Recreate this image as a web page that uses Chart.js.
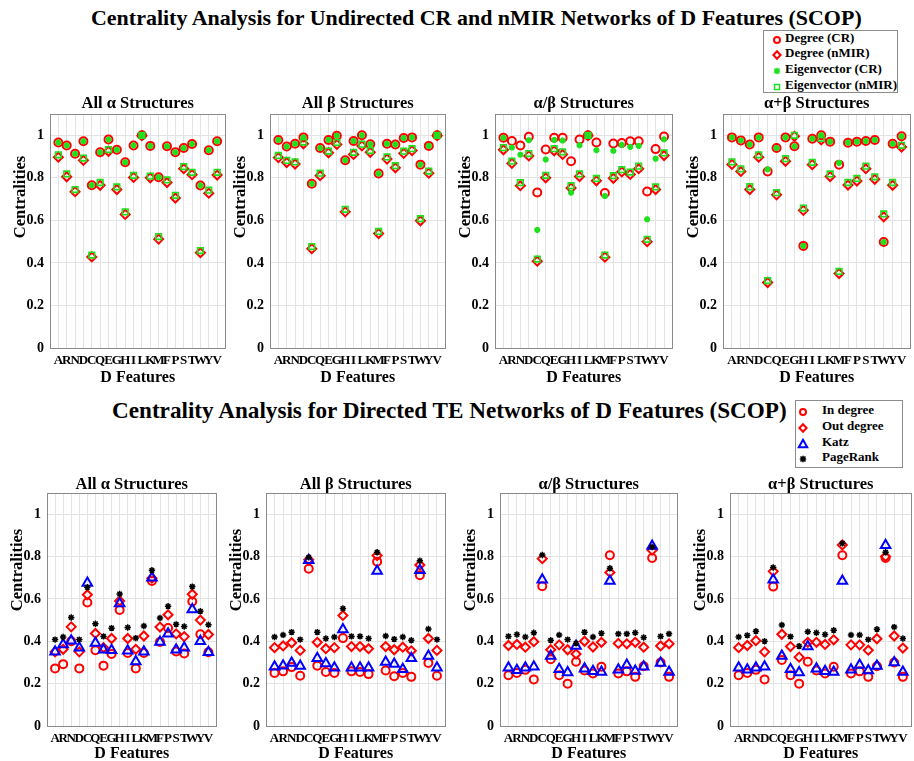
<!DOCTYPE html>
<html><head><meta charset="utf-8">
<script src="https://cdn.jsdelivr.net/npm/chart.js@4.4.1/dist/chart.umd.min.js"></script>
<style>
html,body{margin:0;padding:0;background:#fff;width:914px;height:761px;overflow:hidden;}
body{position:relative;font-family:'Liberation Serif','Times New Roman',serif;}
canvas{position:absolute;}
.ttl{position:absolute;white-space:nowrap;font-weight:bold;color:#000;line-height:1;}
.legend{position:absolute;background:#fff;border:1px solid #8c8c8c;box-sizing:border-box;}
.lrow{position:absolute;white-space:nowrap;font-weight:bold;font-size:13px;color:#000;line-height:1;}
.lmark{position:absolute;}
</style></head>
<body>
<div class="ttl" id="title1">Centrality Analysis for Undirected CR and nMIR Networks of D Features (SCOP)</div>
<div class="ttl" id="title2">Centrality Analysis for Directed TE Networks of D Features (SCOP)</div>
<script>
// ---------- categories & ticks ----------
const features = ['A','R','N','D','C','Q','E','G','H','I','L','K','M','F','P','S','T','W','Y','V'];
const yTickValues = [0, 0.2, 0.4, 0.6, 0.8, 1];
const yTickLabels = ['0', '0.2', '0.4', '0.6', '0.8', '1'];

// ---------- undirected (top row) ----------
const alphaDegreeCR    = [0.966,0.952,0.913,0.972,0.765,0.920,0.980,0.932,0.873,0.952,1.000,0.950,0.803,0.948,0.920,0.940,0.959,0.764,0.930,0.972];
const alphaDegreeNMIR  = [0.897,0.805,0.735,0.882,0.428,0.765,0.925,0.745,0.628,0.802,0.998,0.800,0.512,0.778,0.705,0.843,0.815,0.448,0.728,0.813];
const alphaEigenCR     = [0.966,0.952,0.913,0.972,0.765,0.920,0.980,0.932,0.873,0.952,1.000,0.950,0.803,0.948,0.920,0.940,0.959,0.764,0.930,0.972];
const alphaEigenNMIR   = [0.908,0.818,0.745,0.893,0.437,0.778,0.933,0.757,0.640,0.812,1.000,0.808,0.524,0.790,0.718,0.853,0.826,0.458,0.742,0.826];

const betaDegreeCR     = [0.978,0.947,0.960,0.990,0.772,0.940,0.978,0.998,0.883,0.973,1.000,0.958,0.820,0.960,0.957,0.987,0.990,0.862,0.950,1.000];
const betaDegreeNMIR   = [0.895,0.872,0.865,0.960,0.467,0.810,0.918,0.957,0.640,0.910,0.950,0.920,0.538,0.888,0.847,0.915,0.928,0.598,0.822,0.998];
const betaEigenCR      = [0.978,0.947,0.960,0.990,0.772,0.940,0.978,0.998,0.883,0.973,1.000,0.958,0.820,0.960,0.957,0.987,0.990,0.862,0.950,1.000];
const betaEigenNMIR    = [0.905,0.882,0.875,0.968,0.477,0.822,0.926,0.966,0.652,0.920,0.958,0.928,0.548,0.898,0.857,0.925,0.937,0.608,0.832,1.000];

const aOverBDegreeCR   = [0.988,0.973,0.952,0.993,0.731,0.933,0.988,0.988,0.878,0.980,1.000,0.966,0.729,0.961,0.964,0.972,0.972,0.736,0.935,0.994];
const aOverBDegreeNMIR = [0.932,0.868,0.763,0.903,0.408,0.800,0.927,0.910,0.752,0.806,0.998,0.786,0.427,0.798,0.828,0.816,0.843,0.500,0.745,0.905];
const aOverBEigenCR    = [0.988,0.942,0.909,0.977,0.555,0.886,0.978,0.975,0.730,0.953,1.000,0.930,0.714,0.927,0.955,0.945,0.950,0.605,0.890,0.981];
const aOverBEigenNMIR  = [0.942,0.878,0.777,0.914,0.418,0.812,0.937,0.922,0.763,0.818,1.000,0.797,0.437,0.810,0.838,0.827,0.855,0.511,0.757,0.917];

const aPlusBDegreeCR   = [0.990,0.976,0.957,0.990,0.830,0.940,0.990,0.948,0.480,0.984,1.000,0.970,0.862,0.965,0.970,0.973,0.978,0.498,0.960,0.995];
const aPlusBDegreeNMIR = [0.863,0.830,0.745,0.897,0.308,0.720,0.878,0.995,0.647,0.862,0.978,0.806,0.350,0.766,0.785,0.843,0.793,0.617,0.765,0.945];
const aPlusBEigenCR    = [0.990,0.976,0.957,0.990,0.840,0.940,0.990,0.948,0.480,0.984,1.000,0.970,0.870,0.965,0.970,0.973,0.978,0.498,0.960,0.995];
const aPlusBEigenNMIR  = [0.875,0.842,0.758,0.908,0.317,0.730,0.890,1.000,0.658,0.873,0.985,0.818,0.360,0.778,0.797,0.855,0.805,0.630,0.778,0.953];

// ---------- directed TE (bottom row) ----------
const alphaInDegree    = [0.272,0.292,0.400,0.272,0.583,0.358,0.285,0.340,0.548,0.345,0.272,0.345,0.685,0.397,0.463,0.352,0.342,0.588,0.433,0.348];
const alphaOutDegree   = [0.350,0.362,0.468,0.350,0.620,0.437,0.370,0.413,0.590,0.413,0.362,0.425,0.698,0.467,0.525,0.435,0.422,0.622,0.500,0.432];
const alphaKatz        = [0.350,0.385,0.403,0.370,0.675,0.392,0.360,0.358,0.578,0.355,0.305,0.350,0.700,0.397,0.435,0.360,0.370,0.550,0.400,0.348];
const alphaPageRank    = [0.408,0.420,0.512,0.408,0.655,0.483,0.423,0.462,0.623,0.465,0.415,0.472,0.735,0.510,0.565,0.480,0.470,0.658,0.542,0.478];

const betaInDegree     = [0.250,0.258,0.278,0.237,0.742,0.285,0.255,0.250,0.415,0.258,0.255,0.245,0.776,0.262,0.235,0.250,0.232,0.712,0.298,0.237];
const betaOutDegree    = [0.370,0.378,0.393,0.357,0.785,0.395,0.365,0.370,0.522,0.375,0.375,0.365,0.805,0.375,0.360,0.372,0.355,0.760,0.413,0.357];
const betaKatz         = [0.280,0.285,0.298,0.283,0.782,0.320,0.295,0.275,0.455,0.275,0.275,0.275,0.732,0.302,0.293,0.268,0.320,0.735,0.330,0.275];
const betaPageRank     = [0.420,0.430,0.443,0.408,0.796,0.443,0.413,0.420,0.555,0.423,0.423,0.413,0.820,0.425,0.410,0.420,0.405,0.780,0.458,0.408];

const aOverBInDegree   = [0.240,0.250,0.265,0.220,0.660,0.315,0.240,0.200,0.303,0.262,0.248,0.280,0.806,0.248,0.258,0.232,0.282,0.793,0.300,0.232];
const aOverBOutDegree  = [0.380,0.385,0.372,0.398,0.790,0.360,0.383,0.360,0.340,0.400,0.373,0.395,0.725,0.390,0.388,0.395,0.372,0.830,0.378,0.388];
const aOverBKatz       = [0.275,0.263,0.275,0.280,0.690,0.330,0.268,0.253,0.378,0.270,0.258,0.255,0.685,0.265,0.288,0.260,0.280,0.850,0.298,0.255];
const aOverBPageRank   = [0.423,0.432,0.420,0.440,0.807,0.405,0.430,0.408,0.390,0.443,0.420,0.438,0.745,0.435,0.435,0.440,0.418,0.845,0.423,0.435];

const aPlusBInDegree   = [0.240,0.250,0.265,0.220,0.658,0.312,0.240,0.200,0.303,0.262,0.248,0.280,0.806,0.248,0.258,0.232,0.282,0.793,0.300,0.232];
const aPlusBOutDegree  = [0.370,0.380,0.403,0.350,0.730,0.433,0.375,0.325,0.395,0.395,0.385,0.407,0.855,0.383,0.383,0.358,0.412,0.800,0.425,0.368];
const aPlusBKatz       = [0.275,0.265,0.275,0.280,0.690,0.330,0.268,0.253,0.375,0.270,0.258,0.255,0.685,0.265,0.288,0.262,0.283,0.853,0.300,0.255];
const aPlusBPageRank   = [0.420,0.428,0.447,0.400,0.748,0.477,0.422,0.377,0.445,0.440,0.432,0.452,0.862,0.430,0.430,0.408,0.457,0.820,0.467,0.413];

const topLegendLabels = ['Degree (CR)', 'Degree (nMIR)', 'Eigenvector (CR)', 'Eigenvector (nMIR)'];
const bottomLegendLabels = ['In degree', 'Out degree', 'Katz', 'PageRank'];
const panelTitles = ['All \u03b1 Structures', 'All \u03b2 Structures', '\u03b1/\u03b2 Structures', '\u03b1+\u03b2 Structures'];

// ---------- styling ----------
const FONT = "'Liberation Serif','Times New Roman',serif";
const RED = '#ff0000', GREEN = '#1fe01f', BLUE = '#0000ff', BLACK = '#000000';
const TRANSP = 'rgba(0,0,0,0)';

const topStyles = [
  {pointStyle:'circle',  pointRadius:4,   pointBorderWidth:2,   pointBorderColor:RED,   pointBackgroundColor:TRANSP, order:4},
  {pointStyle:'rectRot', pointRadius:4.5, pointBorderWidth:2,   pointBorderColor:RED,   pointBackgroundColor:TRANSP, order:3},
  {pointStyle:'star',    pointRadius:3,   pointBorderWidth:2.2, pointBorderColor:GREEN, pointBackgroundColor:GREEN,  order:2},
  {pointStyle:'rect',    pointRadius:4,   pointBorderWidth:1.6, pointBorderColor:GREEN, pointBackgroundColor:TRANSP, order:1}
];
const bottomStyles = [
  {pointStyle:'circle',   pointRadius:4,   pointBorderWidth:2,   pointBorderColor:RED,   pointBackgroundColor:TRANSP, order:4},
  {pointStyle:'rectRot',  pointRadius:4.5, pointBorderWidth:2,   pointBorderColor:RED,   pointBackgroundColor:TRANSP, order:3},
  {pointStyle:'triangle', pointRadius:5.5, pointBorderWidth:2,   pointBorderColor:BLUE,  pointBackgroundColor:TRANSP, order:2},
  {pointStyle:'star',     pointRadius:3.2, pointBorderWidth:1.5, pointBorderColor:BLACK, pointBackgroundColor:BLACK,  order:1}
];

const framePlugin = {
  id: 'frame',
  beforeDatasetsDraw(chart) {
    const {ctx, chartArea: a} = chart;
    ctx.save();
    ctx.strokeStyle = '#8a8a8a';
    ctx.lineWidth = 1;
    ctx.strokeRect(Math.round(a.left) + 0.5, Math.round(a.top) + 0.5, Math.round(a.right - a.left) - 1, Math.round(a.bottom - a.top));
    ctx.restore();
  }
};
// axis label on the left and the panel title centred on the plot area
const labelsPlugin = {
  id: 'panelLabels',
  afterDraw(chart, args, opts) {
    const {ctx, chartArea: a} = chart;
    ctx.save();
    ctx.fillStyle = '#000';
    ctx.textAlign = 'center';
    ctx.textBaseline = 'middle';
    ctx.font = 'bold 16.5px ' + FONT;
    ctx.fillText(opts.title, (a.left + a.right) / 2, a.top - opts.titleGap);
    ctx.translate(a.left - opts.dx, a.top + opts.dy);
    ctx.rotate(-Math.PI / 2);
    ctx.font = 'bold 16.5px ' + FONT;
    ctx.fillText(opts.yText, 0, 0);
    ctx.restore();
  }
};

function toPoints(arr) { return arr.map((v, i) => ({x: i + 1, y: v})); }

function makePanel(p) {
  const yW = 50, xH = 45, padR = 1, titleH = 22;
  const w = p.right - p.left + yW + padR;
  const h = titleH + (p.bottom - p.top) + xH;
  const cv = document.createElement('canvas');
  cv.width = w; cv.height = h;
  cv.style.width = w + 'px'; cv.style.height = h + 'px';
  cv.style.left = (p.left - yW) + 'px';
  cv.style.top = (p.top - titleH) + 'px';
  document.body.appendChild(cv);
  const datasets = p.series.map((arr, k) => Object.assign({
    label: p.labels[k], data: toPoints(arr), showLine: false
  }, p.styles[k]));
  new Chart(cv, {
    type: 'scatter',
    data: {datasets},
    plugins: [framePlugin, labelsPlugin],
    options: {
      responsive: false, animation: false, devicePixelRatio: 1,
      events: [],
      layout: {padding: {left: 0, right: padR, top: titleH, bottom: 0}},
      plugins: {
        legend: {display: false},
        tooltip: {enabled: false},
        title: {display: false},
        panelLabels: {title: p.title, titleGap: p.titleGap, yText: 'Centralities', dx: 29, dy: p.yLabelDy}
      },
      scales: {
        x: {
          type: 'linear', min: 0, max: 21,
          afterBuildTicks: s => { s.ticks = features.map((f, i) => ({value: i + 1})); },
          afterFit: s => { s.height = xH; },
          ticks: {autoSkip: false, maxRotation: 0, minRotation: 0, padding: 5, color: '#000',
            font: {family: FONT, size: 13, weight: 'bold'},
            callback: v => features[Math.round(v) - 1]},
          grid: {color: '#e3e3e3', drawTicks: false, lineWidth: 1},
          border: {display: false},
          title: {display: true, text: 'D Features', color: '#000',
            font: {family: FONT, size: 16, weight: 'bold', lineHeight: 1.2},
            padding: {top: 0, bottom: p.xTitlePad}}
        },
        y: {
          type: 'linear', min: 0, max: 1.1,
          afterBuildTicks: s => { s.ticks = yTickValues.map(v => ({value: v})); },
          afterFit: s => { s.width = yW; },
          ticks: {padding: 6, color: '#000', font: {family: FONT, size: 14, weight: 'bold'},
            callback: (v) => { const i = yTickValues.findIndex(t => Math.abs(t - v) < 1e-6); return i >= 0 ? yTickLabels[i] : ''; }},
          grid: {color: '#e3e3e3', drawTicks: false, lineWidth: 1},
          border: {display: false}
        }
      }
    }
  });
}

const topBoxes = [
  {left: 50, right: 231}, {left: 270, right: 451}, {left: 495, right: 678}, {left: 723, right: 916}
];
const bottomBoxes = [
  {left: 47, right: 223}, {left: 266, right: 452}, {left: 500, right: 684}, {left: 730, right: 918}
];
const topSeries = [
  [alphaDegreeCR, alphaDegreeNMIR, alphaEigenCR, alphaEigenNMIR],
  [betaDegreeCR, betaDegreeNMIR, betaEigenCR, betaEigenNMIR],
  [aOverBDegreeCR, aOverBDegreeNMIR, aOverBEigenCR, aOverBEigenNMIR],
  [aPlusBDegreeCR, aPlusBDegreeNMIR, aPlusBEigenCR, aPlusBEigenNMIR]
];
const bottomSeries = [
  [alphaInDegree, alphaOutDegree, alphaKatz, alphaPageRank],
  [betaInDegree, betaOutDegree, betaKatz, betaPageRank],
  [aOverBInDegree, aOverBOutDegree, aOverBKatz, aOverBPageRank],
  [aPlusBInDegree, aPlusBOutDegree, aPlusBKatz, aPlusBPageRank]
];

for (let i = 0; i < 4; i++) {
  makePanel(Object.assign({top: 114, bottom: 348, titleGap: 10, xTitlePad: 5.5, yLabelDy: 83,
    title: panelTitles[i], series: topSeries[i], labels: topLegendLabels, styles: topStyles}, topBoxes[i]));
  makePanel(Object.assign({top: 493, bottom: 726, titleGap: 8, xTitlePad: 8, yLabelDy: 77,
    title: panelTitles[i], series: bottomSeries[i], labels: bottomLegendLabels, styles: bottomStyles}, bottomBoxes[i]));
}

// ---------- main titles (fit to measured widths) ----------
function placeTitle(id, left, centerY, targetW) {
  const el = document.getElementById(id);
  el.style.fontSize = '22px';
  const w = el.getBoundingClientRect().width;
  const fs = 22 * targetW / w;
  el.style.fontSize = fs.toFixed(2) + 'px';
  el.style.left = left + 'px';
  el.style.top = (centerY - fs * 0.5) + 'px';
}
placeTitle('title1', 91, 18, 771);
placeTitle('title2', 112, 411, 675);

// ---------- legends ----------
function markerSVG(kind, color) {
  let s = '';
  if (kind === 'circle') s = `<circle cx="6" cy="6" r="3" fill="none" stroke="${color}" stroke-width="2"/>`;
  if (kind === 'rectRot') s = `<path d="M6 2.2 L9.6 6 L6 9.8 L2.4 6 Z" fill="none" stroke="${color}" stroke-width="2"/>`;
  if (kind === 'rect') s = `<rect x="3.5" y="3.5" width="5" height="5" fill="none" stroke="${color}" stroke-width="1.5"/>`;
  if (kind === 'star') s = `<path d="M3.5 3.5 L8.5 8.5 M8.5 3.5 L3.5 8.5 M6 2.8 L6 9.2 M2.8 6 L9.2 6" stroke="${color}" stroke-width="1.6"/>`;
  if (kind === 'triangle') s = `<path d="M6 1.8 L10.2 9.2 L1.8 9.2 Z" fill="none" stroke="${color}" stroke-width="2"/>`;
  return `<svg width="12" height="12" viewBox="0 0 12 12">${s}</svg>`;
}
function makeLegend(box, labels, styles, rowYs, markX, textX) {
  const lg = document.createElement('div');
  lg.className = 'legend';
  Object.assign(lg.style, {left: box.x + 'px', top: box.y + 'px', width: box.w + 'px', height: box.h + 'px'});
  document.body.appendChild(lg);
  labels.forEach((lab, k) => {
    const m = document.createElement('div');
    m.className = 'lmark';
    m.innerHTML = markerSVG(styles[k].pointStyle, styles[k].pointBorderColor);
    Object.assign(m.style, {left: (markX - 6) + 'px', top: (rowYs[k] - 6) + 'px', width: '12px', height: '12px'});
    document.body.appendChild(m);
    const t = document.createElement('div');
    t.className = 'lrow';
    t.textContent = lab;
    Object.assign(t.style, {left: textX + 'px', top: (rowYs[k] - 7) + 'px'});
    document.body.appendChild(t);
  });
}
makeLegend({x: 763, y: 30, w: 135, h: 63}, topLegendLabels, topStyles, [38, 53, 69, 85], 777, 785);
makeLegend({x: 795, y: 400, w: 108, h: 68}, bottomLegendLabels, bottomStyles, [410, 426, 442, 457], 803, 822);
</script>
</body></html>
